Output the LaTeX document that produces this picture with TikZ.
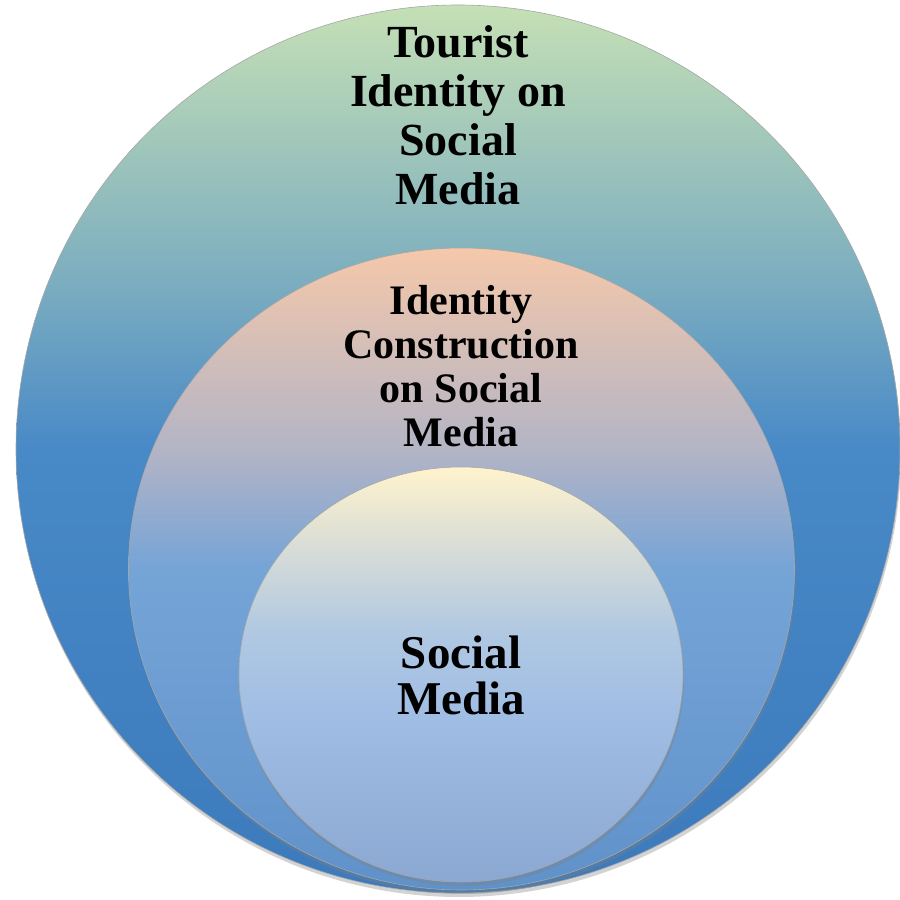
\documentclass[tikz,border=0pt]{standalone}
\usepackage{fontspec}
\setmainfont{Liberation Serif}
\usetikzlibrary{shapes.geometric,shadows}

% colour stops, top to bottom
\definecolor{outerTop}{RGB}{197,224,181}
\definecolor{outerTeal}{RGB}{122,172,192}
\definecolor{outerMid}{RGB}{72,137,199}
\definecolor{outerBot}{RGB}{60,122,188}
\definecolor{midTop}{RGB}{245,200,170}
\definecolor{midGrey}{RGB}{178,180,198}
\definecolor{midMid}{RGB}{117,164,215}
\definecolor{midBot}{RGB}{96,146,202}
\definecolor{inTop}{RGB}{255,243,205}
\definecolor{inPale}{RGB}{215,220,215}
\definecolor{inMid}{RGB}{176,200,226}
\definecolor{inLow}{RGB}{160,189,228}
\definecolor{inBot}{RGB}{138,168,210}

\pgfdeclareverticalshading{outerShade}{100bp}{color(0bp)=(outerBot); color(25bp)=(outerBot);
  color(50bp)=(outerMid); color(59bp)=(outerTeal); color(75bp)=(outerTop); color(100bp)=(outerTop)}
\pgfdeclareverticalshading{midShade}{100bp}{color(0bp)=(midBot); color(25bp)=(midBot);
  color(50bp)=(midMid); color(59bp)=(midGrey); color(75bp)=(midTop); color(100bp)=(midTop)}
\pgfdeclareverticalshading{innerShade}{100bp}{color(0bp)=(inBot); color(25bp)=(inBot);
  color(45bp)=(inLow); color(55bp)=(inMid); color(65bp)=(inPale); color(75bp)=(inTop); color(100bp)=(inTop)}

\tikzset{
  layer/.style = {ellipse, inner sep=0pt, draw=black!35, line width=0.6pt,
    drop shadow={shadow xshift=1pt, shadow yshift=-4pt, opacity=0.35}},
  label/.style = {align=center, text=black}
}

\begin{document}
\begin{tikzpicture}[x=1pt, y=1pt]
  \useasboundingbox (0,0) rectangle (900,900);

  % three nested layers, largest first
  \node[layer, minimum width=884pt, minimum height=888pt, shading=outerShade]
        (tourist) at (458,451) {};
  \node[layer, minimum width=666pt, minimum height=642pt, shading=midShade]
        (construction) at (461.5,331) {};
  \node[layer, minimum width=444pt, minimum height=415pt, shading=innerShade]
        (social) at (461,225.5) {};

  % labels
  \node[label, font=\fontsize{46}{49}\selectfont\bfseries] (touristText) at (458,785)
    {Tourist\\Identity on\\Social\\Media};
  \node[label, font=\fontsize{42}{44}\selectfont\bfseries] (constructionText) at (461,534)
    {Identity\\Construction\\on Social\\Media};
  \node[label, font=\fontsize{47}{46}\selectfont\bfseries] (socialText) at (461,225)
    {Social\\Media};
\end{tikzpicture}
\end{document}
